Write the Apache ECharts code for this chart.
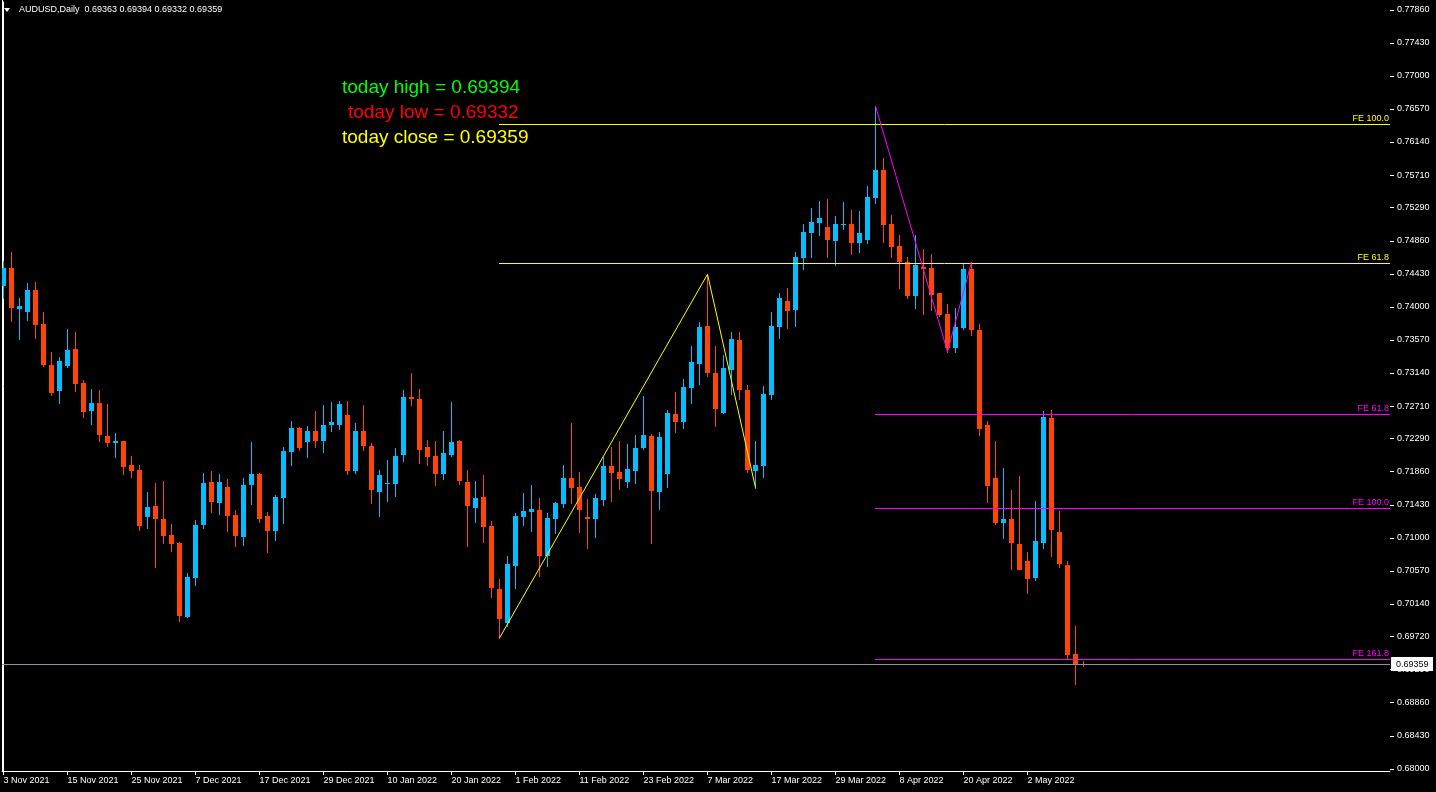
<!DOCTYPE html>
<html>
<head>
<meta charset="utf-8">
<script src="https://cdn.jsdelivr.net/npm/echarts@6/dist/echarts.min.js"></script>
<style>
html,body{margin:0;padding:0;background:#000;}
#chart{width:1436px;height:792px;}
</style>
</head>
<body>
<div id="chart"></div>
<script>
// ---- data (AUDUSD daily, 3 Nov 2021 .. 11 May 2022, one entry per trading day) ----
const tickIdx = [0,8,16,24,32,40,48,56,64,72,80,88,96,104,112,120,128];
const tickLabels = ["3 Nov 2021","15 Nov 2021","25 Nov 2021","7 Dec 2021","17 Dec 2021","29 Dec 2021","10 Jan 2022","20 Jan 2022","1 Feb 2022","11 Feb 2022","23 Feb 2022","7 Mar 2022","17 Mar 2022","29 Mar 2022","8 Apr 2022","20 Apr 2022","2 May 2022"];
const priceTicks = [0.77860,0.77430,0.77000,0.76570,0.76140,0.75710,0.75290,0.74860,0.74430,0.74000,0.73570,0.73140,0.72710,0.72290,0.71860,0.71430,0.71000,0.70570,0.70140,0.69720,0.69290,0.68860,0.68430,0.68000];

const opens = [0.74273,0.74503,0.73970,0.73935,0.74217,0.73776,0.73243,0.72909,0.73234,0.73451,
0.73009,0.72649,0.72749,0.72322,0.72234,0.72256,0.71944,0.71879,0.71272,0.71411,
0.71242,0.71035,0.70931,0.69973,0.70480,0.71159,0.71726,0.71454,0.71653,0.71296,
0.71013,0.71688,0.71825,0.71281,0.71091,0.71519,0.72117,0.72424,0.72247,0.72386,
0.72260,0.72468,0.72468,0.72593,0.71870,0.72386,0.72191,0.71597,0.71701,0.71701,
0.72069,0.72827,0.72801,0.72177,0.72064,0.71831,0.72069,0.72256,0.71723,0.71389,
0.71528,0.71152,0.70333,0.69890,0.70636,0.71272,0.71337,0.71359,0.70766,0.71246,
0.71441,0.71775,0.71661,0.71272,0.71246,0.71493,0.71931,0.71853,0.71727,0.71870,
0.72169,0.72322,0.71597,0.71831,0.72606,0.72506,0.72948,0.73260,0.73750,0.73139,
0.72624,0.73182,0.73568,0.72918,0.71870,0.71935,0.72857,0.73741,0.74074,0.73961,
0.74637,0.74962,0.75092,0.75035,0.74858,0.75066,0.75075,0.74826,0.74870,0.75416,
0.75776,0.75075,0.74789,0.74585,0.74143,0.74520,0.74503,0.74178,0.73906,0.73468,
0.73728,0.74494,0.73697,0.72464,0.71775,0.71195,0.71242,0.70918,0.70697,0.70480,
0.70935,0.72553,0.71078,0.70645,0.69489,0.69363];
const highs = [0.74594,0.74711,0.74113,0.74308,0.74321,0.73931,0.73412,0.73347,0.73711,0.73671,
0.73048,0.72931,0.72918,0.72736,0.72360,0.72258,0.72064,0.71941,0.71593,0.71713,
0.71736,0.71176,0.70944,0.70541,0.71236,0.71842,0.71866,0.71825,0.71762,0.71359,
0.71775,0.72243,0.71842,0.71333,0.71554,0.72179,0.72516,0.72438,0.72451,0.72646,
0.72725,0.72765,0.72778,0.72778,0.72490,0.72725,0.72230,0.71879,0.72008,0.72159,
0.72918,0.73139,0.72931,0.72270,0.72258,0.72386,0.72765,0.72275,0.71879,0.71736,
0.71814,0.71217,0.70463,0.70760,0.71316,0.71580,0.71683,0.71515,0.71316,0.71465,
0.71944,0.72490,0.71853,0.71502,0.71567,0.72048,0.72177,0.72258,0.72217,0.72334,
0.72840,0.72347,0.72373,0.72658,0.72892,0.73061,0.73484,0.73802,0.74422,0.73484,
0.73373,0.73671,0.73671,0.72983,0.72258,0.72970,0.73931,0.74178,0.74243,0.74711,
0.75075,0.75282,0.75374,0.75399,0.75178,0.75360,0.75256,0.75243,0.75568,0.76607,
0.75932,0.75192,0.74932,0.74646,0.74932,0.74750,0.74685,0.74178,0.74035,0.73985,
0.74563,0.74581,0.73776,0.72516,0.72258,0.71905,0.71619,0.71801,0.70814,0.71480,
0.72646,0.72658,0.71346,0.70697,0.69852,0.69394];
const lows = [0.74117,0.73818,0.73584,0.73831,0.73597,0.73234,0.72857,0.72753,0.73221,0.72909,
0.72571,0.72481,0.72260,0.72195,0.72052,0.71831,0.71792,0.71104,0.71130,0.70623,
0.70935,0.70831,0.69922,0.69973,0.70389,0.71130,0.71337,0.71314,0.71091,0.70896,
0.70909,0.71441,0.71208,0.70819,0.70974,0.71195,0.71948,0.72143,0.72052,0.72182,
0.72117,0.72390,0.72416,0.71831,0.71844,0.72143,0.71454,0.71287,0.71480,0.71545,
0.71999,0.72727,0.71973,0.71948,0.71688,0.71766,0.72065,0.71701,0.70896,0.71208,
0.70948,0.70233,0.69697,0.69856,0.70352,0.71159,0.71091,0.70501,0.70636,0.71057,
0.71403,0.71454,0.71078,0.70860,0.71013,0.71424,0.71480,0.71636,0.71662,0.71714,
0.72156,0.70935,0.71376,0.71662,0.72377,0.72426,0.72753,0.73000,0.73104,0.72456,
0.72624,0.72870,0.72805,0.71857,0.71649,0.71792,0.72805,0.73597,0.73728,0.73754,
0.74494,0.74650,0.74936,0.74650,0.74546,0.75013,0.74690,0.74714,0.74828,0.75351,
0.74844,0.74650,0.74247,0.74117,0.73987,0.73909,0.73961,0.73883,0.73416,0.73416,
0.73714,0.73637,0.72338,0.71467,0.71181,0.71000,0.70591,0.70624,0.70285,0.70450,
0.70868,0.70766,0.70624,0.69441,0.69103,0.69332];
const closes = [0.74503,0.73987,0.74009,0.74217,0.73766,0.73247,0.72883,0.73295,0.73438,0.73000,
0.72636,0.72749,0.72338,0.72234,0.72256,0.71922,0.71870,0.71156,0.71398,0.71246,
0.71027,0.70922,0.69986,0.70493,0.71168,0.71713,0.71467,0.71726,0.71287,0.71027,
0.71683,0.71825,0.71246,0.71091,0.71528,0.72126,0.72424,0.72169,0.72386,0.72260,
0.72464,0.72503,0.72735,0.71870,0.72386,0.72195,0.71623,0.71814,0.71714,0.72064,
0.72827,0.72805,0.72143,0.72052,0.71831,0.72100,0.72243,0.71741,0.71415,0.71515,
0.71143,0.70352,0.69947,0.70664,0.71281,0.71350,0.71372,0.70766,0.71256,0.71445,
0.71775,0.71649,0.71354,0.71246,0.71515,0.71931,0.71844,0.71766,0.71892,0.72165,
0.72334,0.71610,0.72308,0.72620,0.72506,0.72957,0.73282,0.73737,0.73141,0.72675,
0.73204,0.73581,0.72922,0.71883,0.71944,0.72866,0.73750,0.74113,0.73948,0.74646,
0.74971,0.75101,0.75152,0.74870,0.75069,0.75075,0.74826,0.74958,0.75425,0.75776,
0.75066,0.74778,0.74585,0.74143,0.74542,0.74494,0.74156,0.73896,0.73468,0.73737,
0.74490,0.73702,0.72416,0.71671,0.71195,0.71242,0.70935,0.70580,0.70467,0.70958,
0.72566,0.71104,0.70654,0.69480,0.69350,0.69359];

// zigzag pivots (candle indexes) used by the Fibonacci expansion objects
const yellowPivots = [62, 88, 94];   // low, high, low
const magentaPivots = [109, 118, 121]; // high, low, high
const feRatios = [0.618, 1.0, 1.618];

// ---- derived ----
const BULL = '#00bfff', BEAR = '#ff4500';
const last = closes.length - 1;
const candleData = opens.map((o, i) => [i, o, closes[i], lows[i], highs[i]]);

const yA = lows[yellowPivots[0]], yB = highs[yellowPivots[1]], yC = lows[yellowPivots[2]];
const mA = highs[magentaPivots[0]], mB = lows[magentaPivots[1]], mC = highs[magentaPivots[2]];
const feLines = [
  {start: yellowPivots[0], price: yC + feRatios[1]*(yB-yA), text: 'FE 100.0', color: '#ffff00'},
  {start: yellowPivots[0], price: yC + feRatios[0]*(yB-yA), text: 'FE 61.8', color: '#ffff00'},
  {start: magentaPivots[0], price: mC - feRatios[0]*(mA-mB), text: 'FE 61.8', color: '#ff00ff'},
  {start: magentaPivots[0], price: mC - feRatios[1]*(mA-mB), text: 'FE 100.0', color: '#ff00ff'},
  {start: magentaPivots[0], price: mC - feRatios[2]*(mA-mB), text: 'FE 161.8', color: '#ff00ff'}
];
const yellowZZ = [[yellowPivots[0], yA], [yellowPivots[1], yB], [yellowPivots[2], yC]];
const magentaZZ = [[magentaPivots[0], mA], [magentaPivots[1], mB], [magentaPivots[2], mC]];

const FONT = 'Liberation Sans';
const chart = echarts.init(document.getElementById('chart'), null, {renderer: 'canvas'});

function renderCandle(params, api) {
  const i = api.value(0), o = api.value(1), c = api.value(2), l = api.value(3), h = api.value(4);
  const pO = api.coord([i, o]);
  const col = Math.floor(pO[0]);
  const yO = Math.round(pO[1]);
  const yC = Math.round(api.coord([i, c])[1]);
  const yH = Math.round(api.coord([i, h])[1]);
  const yL = Math.round(api.coord([i, l])[1]);
  const color = c > o ? BULL : BEAR;
  const top = Math.min(yO, yC), bot = Math.max(yO, yC);
  return {
    type: 'group',
    children: [
      {type: 'rect', shape: {x: col, y: yH, width: 1, height: Math.max(1, yL - yH + 1)}, style: {fill: color}},
      {type: 'rect', shape: {x: col - 2, y: top, width: 5, height: Math.max(1, bot - top)}, style: {fill: color}}
    ]
  };
}

function renderFE(params, api) {
  const f = feLines[params.dataIndex];
  const p = api.coord([api.value(0), api.value(1)]);
  const right = params.coordSys.x + params.coordSys.width;
  const y = Math.round(p[1]) + 0.5;
  return {
    type: 'group',
    children: [
      {type: 'line', shape: {x1: Math.floor(p[0]), y1: y, x2: right, y2: y}, style: {stroke: f.color, lineWidth: 1}},
      {type: 'text', style: {x: right - 1, y: y - 1, text: f.text, fill: f.color, font: '9px "' + FONT + '"', align: 'right', verticalAlign: 'bottom'}}
    ]
  };
}

function renderPriceTick(params, api) {
  const p = api.coord([0, api.value(1)]);
  const right = params.coordSys.x + params.coordSys.width;
  const y = Math.round(p[1]) + 0.5;
  return {type: 'line', shape: {x1: right, y1: y, x2: right + 4, y2: y}, style: {stroke: '#ffffff', lineWidth: 1}};
}

function renderPriceLine(params, api) {
  const p = api.coord([api.value(0), api.value(1)]);
  const left = params.coordSys.x, right = params.coordSys.x + params.coordSys.width;
  const y = Math.round(p[1]) + 0.5;
  return {
    type: 'group',
    children: [
      {type: 'line', shape: {x1: left, y1: y, x2: right, y2: y}, style: {stroke: '#8a949e', lineWidth: 1}},
      {type: 'rect', shape: {x: right + 1, y: Math.round(p[1]) - 7, width: 42, height: 14}, style: {fill: '#ffffff'}},
      {type: 'text', style: {x: right + 6, y: Math.round(p[1]) + 0.5, text: api.value(1).toFixed(5), fill: '#000000', font: '9px "' + FONT + '"', align: 'left', verticalAlign: 'middle'}}
    ]
  };
}

const option = {
  backgroundColor: '#000000',
  animation: false,
  grid: {left: 2, right: 46, top: 2, bottom: 21, containLabel: false},
  xAxis: {
    type: 'value',
    min: -0.1875,
    max: 173.3125,
    axisLine: {show: true, onZero: false, lineStyle: {color: '#ffffff', width: 1}},
    axisTick: {show: true, customValues: tickIdx, length: 4, lineStyle: {color: '#ffffff'}},
    axisLabel: {
      show: true, customValues: tickIdx, color: '#ffffff', fontFamily: FONT, fontSize: 9,
      align: 'left', margin: 5,
      formatter: v => tickLabels[tickIdx.indexOf(Math.round(v))] || ''
    },
    splitLine: {show: false}
  },
  yAxis: {
    type: 'value',
    position: 'right',
    min: 0.679691,
    max: 0.779584,
    axisLine: {show: true, lineStyle: {color: '#ffffff', width: 1}},
    axisTick: {show: false},
    axisLabel: {show: true, customValues: priceTicks, color: '#ffffff', fontFamily: FONT, fontSize: 9, margin: 7,
      formatter: v => v.toFixed(5)},
    splitLine: {show: false}
  },
  series: [
    {
      type: 'custom', name: 'AUDUSD', renderItem: renderCandle, data: candleData,
      encode: {x: 0, y: [1, 2, 3, 4]}, clip: true, silent: true, z: 2
    },
    {
      type: 'custom', name: 'FE', renderItem: renderFE,
      data: feLines.map(f => [f.start, f.price]), encode: {x: 0, y: 1}, clip: false, silent: true, z: 3
    },
    {
      type: 'line', name: 'zigzag1', data: yellowZZ, showSymbol: false, silent: true, z: 4,
      lineStyle: {color: '#ffff00', width: 1}
    },
    {
      type: 'line', name: 'zigzag2', data: magentaZZ, showSymbol: false, silent: true, z: 4,
      lineStyle: {color: '#ff00ff', width: 1}
    },
    {
      type: 'custom', name: 'ticks', renderItem: renderPriceTick,
      data: priceTicks.map(v => [0, v]), encode: {x: 0, y: 1}, clip: false, silent: true, z: 3
    },
    {
      type: 'custom', name: 'price', renderItem: renderPriceLine,
      data: [[last, closes[last]]], encode: {x: 0, y: 1}, clip: false, silent: true, z: 5
    }
  ],
  graphic: [
    {type: 'rect', left: 2, top: 0, shape: {width: 1, height: 772}, style: {fill: '#ffffff'}, silent: true},
    {type: 'polygon', shape: {points: [[4, 8], [10, 8], [7, 12]]}, style: {fill: '#ffffff'}, silent: true},
    {type: 'text', left: 19, top: 5, style: {
      text: 'AUDUSD,Daily  ' + [opens[last], highs[last], lows[last], closes[last]].map(v => v.toFixed(5)).join(' '),
      fill: '#ffffff', font: '9px "' + FONT + '"'}, silent: true},
    {type: 'text', left: 342, top: 78, style: {text: 'today high = ' + highs[last].toFixed(5), fill: '#00ff00', font: '19px "' + FONT + '"'}, silent: true},
    {type: 'text', left: 348, top: 103, style: {text: 'today low = ' + lows[last].toFixed(5), fill: '#ff0000', font: '19px "' + FONT + '"'}, silent: true},
    {type: 'text', left: 342, top: 128, style: {text: 'today close = ' + closes[last].toFixed(5), fill: '#ffff00', font: '19px "' + FONT + '"'}, silent: true}
  ]
};
chart.setOption(option);
</script>
</body>
</html>
